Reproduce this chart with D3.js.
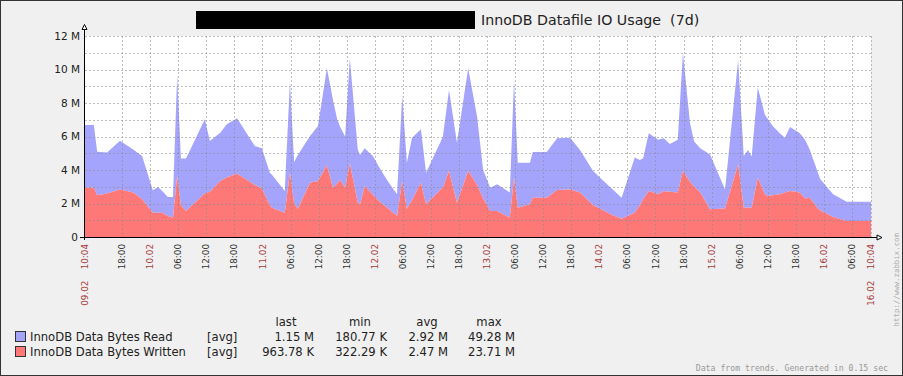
<!DOCTYPE html>
<html>
<head>
<meta charset="utf-8">
<script src="https://cdn.jsdelivr.net/npm/d3@7"></script>
<style>
  body { margin: 0; background: #f0f0f0; }
  svg { display: block; font-family: "DejaVu Sans", sans-serif; }
</style>
</head>
<body>
<svg id="chart"></svg>
<script>
// graph period: 7 days starting 09.02 10:04
let startTime = new Date(2020, 1, 9, 10, 4);
let periodHours = 168;

// sample times, hours after start
let hoursFromStart = [
  0, 1.9, 2.6, 4.7, 7.5, 10.3, 12.2, 14.5, 15.6, 16.5, 17.7, 18.8, 19.7, 20.5, 21.6,
  25.6, 26.7, 28.9, 30.3, 32.5, 36.3, 37.8, 39.5, 40.0, 42.7, 43.8, 44.7, 45.5, 48.1,
  49.8, 51.7, 53.0, 53.9, 54.5, 55.6, 56.6, 58.3, 58.8, 59.8, 61.6, 63.0, 64.8, 66.7,
  67.8, 68.8, 69.9, 71.8, 72.9, 75.9, 76.5, 77.8, 79.5, 81.9, 83.8, 85.1, 86.6, 88.1,
  90.8, 91.7, 92.5, 95.1, 95.7, 98.7, 100.9, 103.7, 105.8, 108.6, 110.1, 112.8, 114.7,
  117.5, 118.6, 119.3, 120.5, 122.5, 123.7, 125.0, 126.7, 127.8, 129.3, 130.2, 131.5,
  133.6, 136.8, 139.6, 140.8, 141.7, 142.5, 143.8, 145.3, 145.8, 147.0, 148.5, 149.6,
  150.7, 152.8, 153.9, 154.9, 156.7, 157.1, 159.9, 162.8, 168
];

// InnoDB Data Bytes Read (M, avg)
let bytesRead = [
  3.75, 3.75, 2.59, 2.45, 2.91, 2.58, 2.58, 1.34, 1.53, 1.30, 1.14, 1.24, 6.03, 2.78, 3.13,
  4.43, 3.03, 2.89, 3.18, 3.31, 2.33, 2.40, 1.94, 1.95, 1.30, 5.41, 2.48, 3.21, 2.79,
  3.29, 5.79, 5.26, 3.83, 3.20, 3.06, 6.27, 3.18, 2.95, 2.26, 2.30, 2.00, 1.60, 1.30,
  5.14, 2.75, 3.73, 3.19, 1.89, 2.83, 3.06, 4.84, 3.58, 6.13, 4.10, 1.70, 1.39, 1.60,
  1.50, 5.83, 2.69, 2.49, 2.72, 2.72, 3.08, 3.09, 2.55, 2.05, 1.85, 1.54, 1.26,
  3.29, 2.70, 2.45, 3.44, 3.25, 3.17, 2.85, 3.15, 7.06, 3.52, 2.70, 2.65,
  3.28, 1.14, 6.23, 3.09, 3.45, 3.05, 5.38, 4.77, 4.65, 4.13, 3.65, 3.28,
  3.82, 3.54, 3.50, 2.88, 2.11, 1.88, 1.36, 1.15, 1.15
];

// InnoDB Data Bytes Written (M, avg)
let bytesWritten = [
  2.94, 2.94, 2.50, 2.60, 2.84, 2.65, 2.25, 1.45, 1.45, 1.45, 1.25, 1.15, 3.64, 1.90, 1.55,
  2.60, 2.70, 3.34, 3.55, 3.78, 3.10, 2.90, 1.90, 1.75, 1.45, 3.84, 2.00, 1.69, 3.24,
  3.34, 4.28, 2.94, 3.20, 3.40, 2.94, 4.40, 2.05, 1.95, 3.04, 2.50, 2.10, 1.70, 1.25,
  3.34, 1.69, 2.20, 3.24, 1.95, 2.80, 2.94, 3.94, 2.05, 3.94, 3.10, 2.30, 1.55, 1.55,
  1.15, 3.54, 1.75, 1.95, 2.35, 2.35, 2.81, 2.84, 2.65, 1.89, 1.69, 1.30, 1.09,
  1.45, 1.90, 2.25, 2.75, 2.55, 2.73, 2.70, 2.65, 3.94, 3.30, 3.00, 2.65,
  1.65, 1.70, 4.34, 1.75, 1.75, 1.75, 3.54, 2.55, 2.45, 2.50, 2.55, 2.65,
  2.75, 2.65, 2.30, 2.35, 1.69, 1.60, 1.19, 0.96, 0.96
];

let yTicks = [0, 2, 4, 6, 8, 10, 12];
let yTickLabels = ["0", "2 M", "4 M", "6 M", "8 M", "10 M", "12 M"];

let seriesNames = ["InnoDB Data Bytes Read", "InnoDB Data Bytes Written"];
let statHeaders = ["last", "min", "avg", "max"];
let statLast = ["1.15 M", "963.78 K"];
let statMin = ["180.77 K", "322.29 K"];
let statAvg = ["2.92 M", "2.47 M"];
let statMax = ["49.28 M", "23.71 M"];

let titleText = "InnoDB Datafile IO Usage  (7d)";

// colours
let readColor = "#a4a4fd";
let writeColor = "#ff7878";
let dateColor = "#a83c3c";

function createChart() {
    let W = 903, H = 376;
    let left = 85, right = 871, top = 36, bottom = 237;

    let svg = d3.select("#chart")
        .attr("width", W)
        .attr("height", H);

    // background and frame
    svg.append("rect")
        .attr("x", 0.5).attr("y", 0.5)
        .attr("width", W - 1).attr("height", H - 1)
        .attr("fill", "#f0f0f0")
        .attr("stroke", "#333");

    svg.append("rect")
        .attr("x", left).attr("y", top)
        .attr("width", right - left).attr("height", bottom - top)
        .attr("fill", "#fff");

    // title with hidden host name
    svg.append("rect")
        .attr("x", 196).attr("y", 11)
        .attr("width", 279).attr("height", 18)
        .attr("fill", "#000");
    svg.append("text")
        .attr("x", 481).attr("y", 25)
        .attr("font-size", "14.2px")
        .attr("fill", "#222")
        .style("white-space", "pre")
        .text(titleText);

    let endTime = d3.timeHour.offset(startTime, periodHours);

    let xScale = d3.scaleTime()
        .domain([startTime, endTime])
        .range([left, right]);

    let yScale = d3.scaleLinear()
        .domain([0, 12])
        .range([bottom, top]);

    let dataset = hoursFromStart.map((h, i) => ({
        date: new Date(startTime.getTime() + h * 3600 * 1000),
        written: bytesWritten[i],
        read: bytesRead[i]
    }));

    let stacked = d3.stack().keys(["written", "read"])(dataset);

    let area = d3.area()
        .x(d => xScale(d.data.date))
        .y0(d => yScale(d[0]))
        .y1(d => yScale(d[1]));

    svg.append("path")
        .datum(stacked[1])
        .attr("d", area)
        .attr("fill", readColor);

    svg.append("path")
        .datum(stacked[0])
        .attr("d", area)
        .attr("fill", writeColor);

    // grid, drawn over the areas
    let grid = svg.append("g")
        .attr("stroke", "#888")
        .attr("stroke-opacity", 0.55)
        .attr("stroke-dasharray", "2,2");

    grid.selectAll(".hgrid")
        .data(d3.range(1, 13))
        .enter()
        .append("line")
        .attr("x1", left).attr("x2", right)
        .attr("y1", d => Math.round(yScale(d)) + 0.5)
        .attr("y2", d => Math.round(yScale(d)) + 0.5);

    // 6-hour ticks, skipping the ones too close to the period edges
    let hourMs = 3600 * 1000;
    let timeTicks = d3.timeHour.every(6).range(startTime, endTime)
        .filter(d => d - startTime > 3 * hourMs && endTime - d > 3 * hourMs);

    grid.selectAll(".vgrid")
        .data(timeTicks.concat([endTime]))
        .enter()
        .append("line")
        .attr("x1", d => Math.round(xScale(d)) + 0.5)
        .attr("x2", d => Math.round(xScale(d)) + 0.5)
        .attr("y1", top).attr("y2", bottom);

    // axes
    svg.append("line")
        .attr("x1", left - 0.5).attr("x2", left - 0.5)
        .attr("y1", bottom + 3).attr("y2", top - 7)
        .attr("stroke", "#000");
    svg.append("path")
        .attr("d", `M${left - 3},${top - 6.5} L${left + 2},${top - 6.5} L${left - 0.5},${top - 11.5} Z`)
        .attr("fill", "#fff").attr("stroke", "#000");

    svg.append("line")
        .attr("x1", left - 4).attr("x2", right + 6)
        .attr("y1", bottom + 0.5).attr("y2", bottom + 0.5)
        .attr("stroke", "#000");
    svg.append("path")
        .attr("d", `M${right + 6},${bottom - 2} L${right + 6},${bottom + 3} L${right + 11},${bottom + 0.5} Z`)
        .attr("fill", "#fff").attr("stroke", "#000");

    // y labels
    svg.selectAll(".ylabel")
        .data(yTicks)
        .enter()
        .append("text")
        .attr("x", (d, i) => i === 0 ? 78 : 80)
        .attr("y", d => yScale(d))
        .attr("dy", "0.36em")
        .attr("text-anchor", "end")
        .attr("font-size", "10.5px")
        .attr("fill", "#222")
        .text((d, i) => yTickLabels[i]);
    svg.append("line")
        .attr("x1", 80).attr("x2", left)
        .attr("y1", bottom + 0.5).attr("y2", bottom + 0.5)
        .attr("stroke", "#000");

    // x labels, rotated
    let fmtDay = d3.timeFormat("%d.%m");
    let fmtHour = d3.timeFormat("%H:%M");
    let fmtFull = d3.timeFormat("%d.%m    %H:%M");

    svg.selectAll(".xlabel")
        .data(timeTicks)
        .enter()
        .append("text")
        .attr("transform", d => `translate(${xScale(d)},${bottom + 7}) rotate(-90)`)
        .attr("dy", "0.35em")
        .attr("text-anchor", "end")
        .attr("font-size", "8.8px")
        .attr("fill", d => d.getHours() === 0 ? dateColor : "#333")
        .text(d => d.getHours() === 0 ? fmtDay(d) : fmtHour(d));

    svg.selectAll(".xedge")
        .data([startTime, endTime])
        .enter()
        .append("text")
        .attr("transform", d => `translate(${xScale(d)},${bottom + 7}) rotate(-90)`)
        .attr("dy", "0.35em")
        .attr("text-anchor", "end")
        .attr("font-size", "8.8px")
        .attr("fill", dateColor)
        .style("white-space", "pre")
        .text(d => fmtFull(d));

    // zabbix link on the right
    svg.append("text")
        .attr("transform", `translate(896,233) rotate(-90)`)
        .attr("dy", "0.35em")
        .attr("text-anchor", "end")
        .attr("font-family", "DejaVu Sans Mono, monospace")
        .attr("font-size", "7.4px")
        .attr("fill", "#aaa")
        .text("http://www.zabbix.com");

    // legend
    let statCols = [statLast, statMin, statAvg, statMax];
    let colRight = [314, 387, 448, 515];
    let colCenter = [286, 360, 427, 489];

    svg.selectAll(".shead")
        .data(statHeaders)
        .enter()
        .append("text")
        .attr("x", (d, i) => colCenter[i])
        .attr("y", 326)
        .attr("text-anchor", "middle")
        .attr("font-size", "11.6px")
        .attr("fill", "#222")
        .text(d => d);

    let rows = svg.selectAll(".lrow")
        .data(seriesNames)
        .enter()
        .append("g")
        .attr("transform", (d, i) => `translate(0, ${341 + i * 15})`);

    rows.append("rect")
        .attr("x", 15.5).attr("y", -9.5)
        .attr("width", 10).attr("height", 10)
        .attr("fill", (d, i) => i === 0 ? readColor : writeColor)
        .attr("stroke", "#333");

    rows.append("text")
        .attr("x", 30)
        .attr("font-size", "11.6px")
        .attr("fill", "#222")
        .text(d => d);

    rows.append("text")
        .attr("x", 207)
        .attr("font-size", "11.6px")
        .attr("fill", "#222")
        .text("[avg]");

    statCols.forEach((col, c) => {
        rows.append("text")
            .attr("x", colRight[c])
            .attr("text-anchor", "end")
            .attr("font-size", "11.6px")
            .attr("fill", "#222")
            .text((d, i) => col[i]);
    });

    // footer
    svg.append("text")
        .attr("x", 888).attr("y", 371)
        .attr("text-anchor", "end")
        .attr("font-family", "DejaVu Sans Mono, monospace")
        .attr("font-size", "8.2px")
        .attr("fill", "#999")
        .style("white-space", "pre")
        .text("Data from trends. Generated in 0.15 sec");
}

window.onload = function() {
    createChart();
};
</script>
</body>
</html>
